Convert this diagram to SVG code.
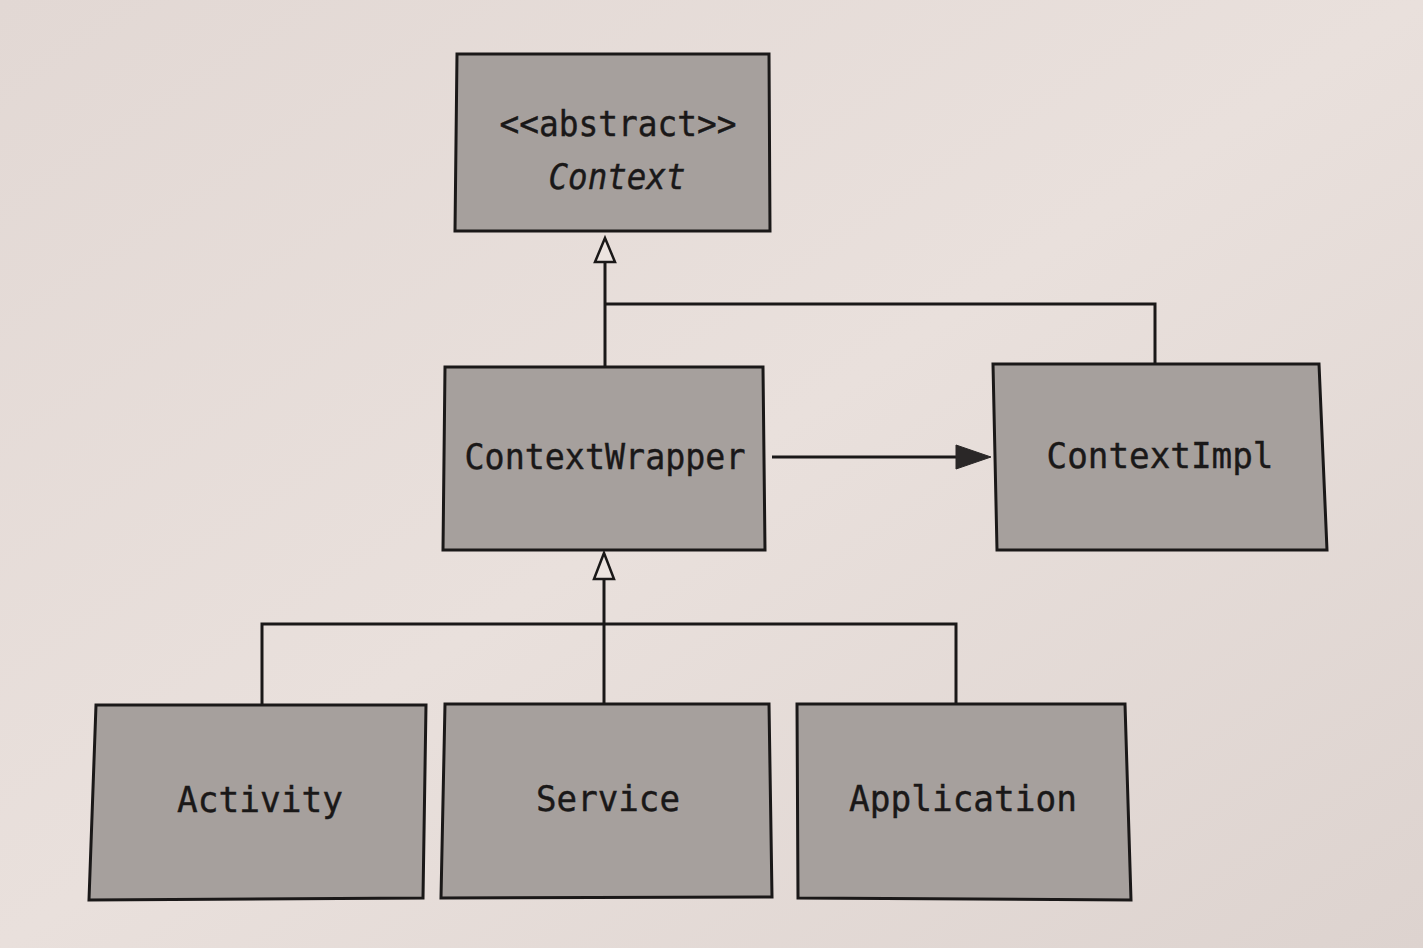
<svg xmlns="http://www.w3.org/2000/svg" width="1423" height="948" viewBox="0 0 1423 948">
<defs>
<linearGradient id="bg" x1="0" y1="0" x2="1" y2="1">
<stop offset="0" stop-color="#e2d8d4"/>
<stop offset="0.5" stop-color="#e9e0dc"/>
<stop offset="1" stop-color="#ddd3cf"/>
</linearGradient>
</defs>
<style>
.box{fill:#a6a09d;stroke:#1a1818;stroke-width:3;stroke-linejoin:miter}
.lbl{font-family:"DejaVu Sans Mono","Liberation Mono",monospace;font-size:35px;fill:#1a1818;text-anchor:middle;stroke:#1a1818;stroke-width:0.4}
.it{font-style:italic}
.ln{fill:none;stroke:#1a1818;stroke-width:3}
.tri{fill:#ece4e0;stroke:#1a1818;stroke-width:2.5;stroke-linejoin:miter}
.head{fill:#2a2727;stroke:#2a2727;stroke-width:1}
</style>
<rect x="0" y="0" width="1423" height="948" fill="url(#bg)"/>
<g id="connectors">
<polyline class="ln" points="605,262 605,367"/>
<polyline class="ln" points="605,304 1155,304 1155,364"/>
<polygon class="tri" points="605,238 595,262 615,262"/>
<line class="ln" x1="772" y1="457" x2="960" y2="457"/>
<polygon class="head" points="991,457 956,445 956,469"/>
<polyline class="ln" points="604,580 604,704"/>
<polyline class="ln" points="262,705 262,624 956,624 956,704"/>
<polygon class="tri" points="604,553 594,579 614,579"/>
</g>
<g id="context">
<polygon class="box" points="457,54 769,54 770,231 455,231"/>
<text class="lbl" x="618" y="136" textLength="237" lengthAdjust="spacingAndGlyphs">&lt;&lt;abstract&gt;&gt;</text>
<text class="lbl it" x="617" y="189" textLength="137" lengthAdjust="spacingAndGlyphs">Context</text>
</g>
<g id="contextwrapper">
<polygon class="box" points="445,367 763,367 765,550 443,550"/>
<text class="lbl" x="605" y="469" textLength="281" lengthAdjust="spacingAndGlyphs">ContextWrapper</text>
</g>
<g id="contextimpl">
<polygon class="box" points="993,364 1319,364 1327,550 997,550"/>
<text class="lbl" x="1160" y="468" textLength="227" lengthAdjust="spacingAndGlyphs">ContextImpl</text>
</g>
<g id="activity">
<polygon class="box" points="96,705 426,705 423,898 89,900"/>
<text class="lbl" x="260" y="812" textLength="166" lengthAdjust="spacingAndGlyphs">Activity</text>
</g>
<g id="service">
<polygon class="box" points="445,704 769,704 772,897 441,898"/>
<text class="lbl" x="608" y="811" textLength="144" lengthAdjust="spacingAndGlyphs">Service</text>
</g>
<g id="application">
<polygon class="box" points="797,704 1125,704 1131,900 798,898"/>
<text class="lbl" x="963" y="811" textLength="228" lengthAdjust="spacingAndGlyphs">Application</text>
</g>
</svg>
